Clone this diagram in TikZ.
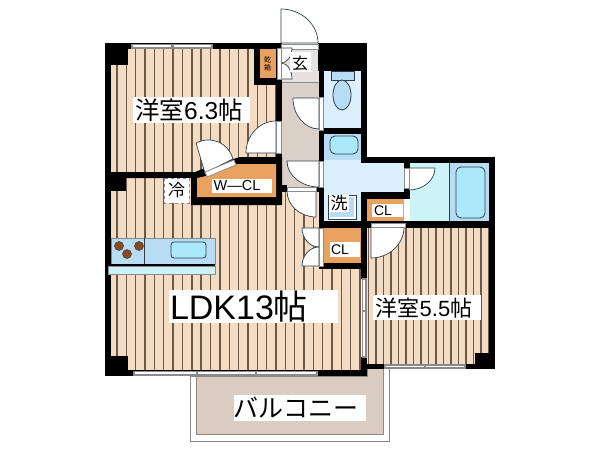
\documentclass[tikz,border=0pt]{standalone}
\usepackage{fontspec}
\usetikzlibrary{calc}
\newfontfamily\jpf{Noto Sans CJK JP}
\newfontfamily\latf{Liberation Sans}
\definecolor{peach}{HTML}{F4DCC4}
\definecolor{stripe}{HTML}{6B5A47}
\definecolor{orangefl}{HTML}{E9A15F}
\definecolor{hallfl}{HTML}{DBD0C7}
\definecolor{porch}{HTML}{E4E1E0}
\definecolor{balc}{HTML}{DACCC0}
\definecolor{wet}{HTML}{DCEFFD}
\definecolor{wetb}{HTML}{B9DCF5}
\definecolor{aqua}{HTML}{A9E9FB}
\definecolor{bathl}{HTML}{CBF3F8}
\definecolor{ink}{HTML}{2F3F48}
\definecolor{frame}{HTML}{8A8A8A}
\definecolor{burner}{HTML}{8B4A17}
\tikzset{
  wall/.style={fill=black,draw=none},
  floorpeach/.style={fill=peach,draw=none},
  stripeline/.style={draw=stripe,line width=1.4pt},
  leaf/.style={fill=white,draw=ink,line width=0.7pt},
  strip/.style={fill=white,draw=frame,line width=0.8pt},
  glass/.style={fill=white,draw=frame,line width=1.3pt},
  fixture/.style={draw=ink,line width=0.8pt},
  labelbg/.style={fill=white,draw=none},
  txt/.style={inner sep=0pt,outer sep=0pt,anchor=center,text=black},
}
\newcommand{\swing}[4]{\path[leaf] (#1) -- (#2) .. controls ($(#2)!.55!(#3)$) and ($(#4)!.55!(#3)$) .. (#4) -- cycle;}
\begin{document}
\begin{tikzpicture}[x=1pt,y=-1pt]
\useasboundingbox (0,0) rectangle (600,450);
\fill[white] (0,0) rectangle (600,450);
% balcony
\path[fill=white,draw=frame,line width=0.9pt] (190,376) -- (190,441) -- (389,441) -- (389,366) -- (367,366) -- (367,376) -- cycle;
\path[fill=balc,draw=frame,line width=0.9pt] (196,376) -- (196,434) -- (383,434) -- (383,366) -- (367,366) -- (367,376) -- cycle;
% floors
\fill[floorpeach] (111,49) rectangle (276,172);
\fill[floorpeach] (111,178) rectangle (361,370);
\fill[floorpeach] (367,227) rectangle (489,364);
\begin{scope}
\clip (111,49) rectangle (276,172);
\foreach \k in {0,...,17} \draw[stripeline] ({117+9.35*\k},49) -- ({117+9.35*\k},172);
\end{scope}
\begin{scope}
\clip (111,178) rectangle (361,370);
\foreach \k in {0,...,26} \draw[stripeline] ({117+9.35*\k},178) -- ({117+9.35*\k},370);
\end{scope}
\begin{scope}
\clip (367,227) rectangle (489,364);
\foreach \k in {0,...,16} \draw[stripeline] ({368.5+7.5*\k},227) -- ({368.5+7.5*\k},364);
\end{scope}
\fill[hallfl] (281,82) rectangle (319,187);
\fill[porch] (281,49) rectangle (319,82);
\draw[frame,line width=0.7pt] (281,82) -- (319,82);
\fill[wet] (324,71) rectangle (361,128);
\fill[wetb] (324,134) rectangle (361,160);
\fill[wet] (324,160) rectangle (404,192);
\fill[wet] (324,192) rectangle (361,221);
\fill[bathl] (410,163) rectangle (449,221);
\fill[wetb] (449,163) rectangle (489,221);
\draw[fixture] (449,163) -- (449,221);
\fill[orangefl] (260,49) rectangle (276,78);
\fill[orangefl] (367,199) rectangle (404,221);
\fill[orangefl] (324,228) rectangle (361,263);
% walls
\fill[wall] (105,43) rectangle (111,376);
\fill[wall] (105,43) rectangle (282,49);
\fill[wall] (105,43) rectangle (128,65);
\fill[wall] (254,49) rectangle (260,85);
\fill[wall] (254,78) rectangle (282,85);
\fill[wall] (276,43) rectangle (282,205);
\fill[wall] (318,43) rectangle (367,71);
\fill[wall] (319,71) rectangle (324,269);
\fill[wall] (361,71) rectangle (367,160);
\fill[wall] (319,128) rectangle (367,134);
\fill[wall] (361,157) rectangle (495,163);
\fill[wall] (489,157) rectangle (495,369);
\fill[wall] (404,163) rectangle (410,199);
\fill[wall] (361,192) rectangle (410,199);
\fill[wall] (361,192) rectangle (367,279);
\fill[wall] (319,221) rectangle (495,228);
\fill[wall] (319,263) rectangle (367,269);
\fill[wall] (361,357) rectangle (367,376);
\fill[wall] (105,370) rectangle (367,376);
\fill[wall] (361,364) rectangle (495,369);
\fill[wall] (105,356) rectangle (128,376);
\fill[wall] (475,353) rectangle (495,369);
\fill[wall] (105,172) rectangle (126,191);
\fill[wall] (282,185) rectangle (287,192);
\fill[wall] (316,185) rectangle (319,192);
\path[wall] (105,172) -- (195,172) -- (205,168) -- (240,157) -- (282,157) -- (282,205) -- (191,205) -- (191,178) -- (105,178) -- cycle;
\path[fill=orangefl] (197,178) -- (206,176) -- (237,164) -- (276,164) -- (276,197) -- (197,197) -- cycle;
% windows
\path[glass] (132,44.5) rectangle (172,48);
\path[glass] (173,44.5) rectangle (212,48);
\path[glass] (134,371.5) rectangle (197,375);
\path[glass] (197,371.5) rectangle (256,375);
\path[glass] (256,371.5) rectangle (317,375);
\path[glass] (385,365) rectangle (425,368);
\path[glass] (425,365) rectangle (465,368);
\path[glass] (362.5,279) rectangle (366,311);
\path[glass] (362.5,311) rectangle (366,357);
% doors
\swing{281,43}{281,9}{318,9}{318,43}
\path[strip] (281,44) rectangle (318,49);
\swing{319,98}{293,98}{293,129}{319,129}
\path[strip] (319,97) rectangle (323,130);
\swing{319,161}{287,161}{287,187}{319,187}
\path[strip] (319,161) rectangle (323,187);
\swing{276,153}{276,121}{246,121}{246,153}
\path[strip] (276.5,121) rectangle (281,153);
\swing{205,173}{196,143}{224,129}{233,159}
\path[strip] (205,172) -- (234,160) -- (236,165) -- (207,177) -- cycle;
\swing{316,191}{287,191}{287,217}{316,217}
\path[strip] (287,187) rectangle (316,191);
\swing{319,228}{302,228}{302,247}{319,247}
\swing{319,266}{302,266}{302,247}{319,247}
\path[strip] (319,228) rectangle (323,266);
\swing{371,227}{371,258}{404,258}{404,227}
\path[strip] (371,223) rectangle (405,227);
\swing{409,168}{435,168}{435,190}{409,190}
\path[strip] (404.5,168) rectangle (409,188);
\swing{281,48}{292,48}{292,63}{281,63}
\swing{281,79}{292,79}{292,63}{281,63}
\path[strip] (277,48) rectangle (281,79);
% toilet and basin
\path[fixture,fill=wetb] (331,71) rectangle (354,80);
\path[fixture,fill=wetb] (342,95) ellipse [x radius=9,y radius=15];
\path[fixture,fill=aqua,rounded corners=5pt] (330,136) rectangle (358,154);
% bath
\path[fixture,fill=aqua,rounded corners=5pt] (456,167) rectangle (485,218);
% washer
\path[draw=ink,line width=0.8pt,fill=white] (328,195) rectangle (356,219);
\path[fill=wetb] (330,197) rectangle (354,217);
% kitchen
\path[fill=wetb,draw=frame,line width=0.4pt] (111,238) rectangle (215,264);
\draw[fixture] (144,238) -- (144,264);
\fill[black] (111,264) rectangle (215,266);
\path[fill=bathl,draw=frame,line width=0.6pt] (108,266) rectangle (215,274);
\path[fixture,fill=aqua,rounded corners=3pt] (171,242) rectangle (206,258);
\path[fill=burner,draw=ink,line width=0.5pt] (119,246) circle (4.5);
\path[fill=burner,draw=ink,line width=0.5pt] (139,246) circle (4.5);
\path[fill=burner,draw=ink,line width=0.5pt] (127,254) circle (4.5);
% labels
\fill[labelbg] (133,97) rectangle (250,123);
\node[txt] (r63) at (189,110) {\fontsize{24.5}{24.5}\selectfont\jpf 洋室\latf 6.3\jpf 帖};
\fill[labelbg] (169,290) rectangle (338,323);
\node[txt] (ldk) at (239,307) {\fontsize{34}{34}\selectfont\latf LDK13\jpf 帖};
\fill[labelbg] (373,295) rectangle (481,320);
\node[txt] (r55) at (424,308) {\fontsize{22}{22}\selectfont\jpf 洋室\latf 5.5\jpf 帖};
\fill[labelbg] (234,395) rectangle (366,421);
\node[txt] (bal) at (296,408) {\fontsize{25}{25}\selectfont\jpf バルコニー};
\fill[labelbg] (212,179) rectangle (272,193);
\node[txt] (wcl) at (237,186) {\fontsize{14.5}{14.5}\selectfont\latf W—CL};
\fill[labelbg] (372,204) rectangle (403,217);
\node[txt] (cl1) at (383,211) {\fontsize{14}{14}\selectfont\latf CL};
\fill[labelbg] (330,242) rectangle (360,257);
\node[txt] (cl2) at (340,249.5) {\fontsize{14}{14}\selectfont\latf CL};
\fill[labelbg] (329,195) rectangle (349,212);
\node[txt] (wash) at (339,203) {\fontsize{17}{17}\selectfont\jpf 洗};
\path[fill=white,draw=frame,dashed,line width=0.9pt] (164,178) rectangle (189,203);
\node[txt] (fridge) at (176.5,190.5) {\fontsize{17}{17}\selectfont\jpf 冷};
\fill[labelbg] (290,52) rectangle (311,72);
\node[txt] (gen) at (300,63) {\fontsize{16}{16}\selectfont\jpf 玄};
\node[txt,align=center,font=\fontsize{7}{8}\selectfont\jpf] (shoe) at (267.5,64) {乾\\箱};
\end{tikzpicture}
\end{document}
